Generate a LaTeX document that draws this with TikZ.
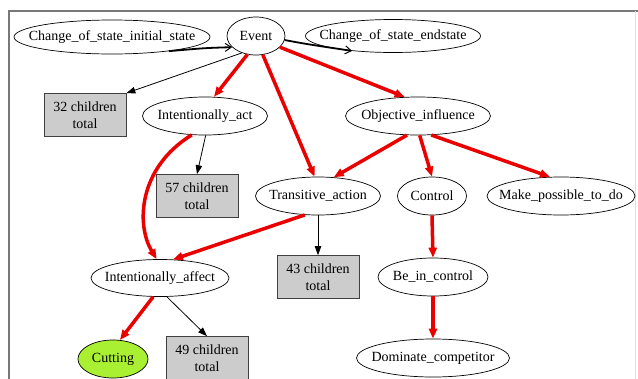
\documentclass[tikz,border=0pt]{standalone}
\usepackage{fontspec}
\setmainfont{Liberation Serif}
\usetikzlibrary{shapes.geometric,arrows.meta}
\definecolor{boxgray}{RGB}{204,204,204}
\definecolor{limefill}{RGB}{170,240,50}
\definecolor{edgered}{RGB}{235,0,0}
\definecolor{framegray}{RGB}{120,120,120}
\tikzset{
  oval/.style={ellipse, draw=black, line width=0.7pt, fill=white,
    inner xsep=-30pt, inner ysep=-10pt,
    font=\fontsize{14}{15}\selectfont},
  countbox/.style={rectangle, draw=black!75, line width=0.7pt, fill=boxgray, inner sep=0pt,
    align=center, minimum width=82pt, minimum height=43pt,
    font=\fontsize{14}{17}\selectfont},
  hot/.style={draw=edgered, line width=3.5pt, -{Triangle[length=10pt,width=8pt]}},
  thin/.style={draw=black, line width=0.8pt, -{Triangle[length=9pt,width=6.5pt]}},
  bold/.style={draw=black, line width=1.8pt, -{Straight Barb[length=6pt,width=8pt,line width=1pt]}}
}
\begin{document}
\begin{tikzpicture}[x=1pt,y=-1pt]
\useasboundingbox (0,0) rectangle (638,378);
\fill[white] (0,0) rectangle (638,378);
% frame
\draw[framegray, line width=2pt] (9,379) -- (9,11) -- (639,11);
\draw[black!12, line width=1pt] (635,11) -- (635,379);

% nodes
\node[oval, minimum width=196pt, minimum height=34pt] (init) at (112,37) {Change\_of\_state\_initial\_state};
\node[oval, minimum width=58pt, minimum height=38pt] (event) at (256,36) {Event};
\node[oval, minimum width=175pt, minimum height=33pt] (endst) at (393,36) {Change\_of\_state\_endstate};
\node[countbox] (c32) at (85,115) {32 children\\total};
\node[oval, minimum width=125pt, minimum height=38pt] (iact) at (205,116) {Intentionally\_act};
\node[oval, minimum width=145pt, minimum height=38pt] (objinf) at (418,116) {Objective\_influence};
\node[countbox] (c57) at (197,196) {57 children\\total};
\node[oval, minimum width=125pt, minimum height=38pt] (trans) at (318,196) {Transitive\_action};
\node[oval, minimum width=69pt, minimum height=38pt] (ctrl) at (432,196) {Control};
\node[oval, minimum width=148pt, minimum height=38pt] (make) at (561,196) {Make\_possible\_to\_do};
\node[countbox] (c43) at (318,277) {43 children\\total};
\node[oval, minimum width=138pt, minimum height=37pt] (iaff) at (160,278) {Intentionally\_affect};
\node[oval, minimum width=110pt, minimum height=38pt] (bectl) at (433,277) {Be\_in\_control};
\node[oval, minimum width=70pt, minimum height=38pt, fill=limefill] (cut) at (113,359) {Cutting};
\node[countbox] (c49) at (207,358) {49 children\\total};
\node[oval, minimum width=153pt, minimum height=38pt] (dom) at (433,358) {Dominate\_competitor};

% connectors
\draw[bold] (init.-14) .. controls (205,48) .. (event.205);
\draw[bold] (event.-8) .. controls (306,44) .. (endst.200);
\draw[thin] (event.230) -- (c32.north east);
\draw[hot] (event.245) -- (iact.65);
\draw[hot] (event.290) -- (trans.100);
\draw[hot] (event.-25) -- (objinf.125);
\draw[thin] (iact.272) -- (c57.north);
\draw[hot] (iact.235) .. controls (138,168) and (136,225) .. (iaff.100);
\draw[hot] (objinf.240) -- (trans.50);
\draw[hot] (objinf.-85) -- (ctrl.north);
\draw[hot] (objinf.-55) -- (make.120);
\draw[thin] (trans.south) -- (c43.north);
\draw[hot] (trans.235) -- (iaff.55);
\draw[hot] (ctrl.south) -- (bectl.north);
\draw[hot] (bectl.south) -- (dom.north);
\draw[hot] (iaff.250) -- (cut.70);
\draw[thin] (iaff.-70) -- (c49.north);
\end{tikzpicture}
\end{document}
